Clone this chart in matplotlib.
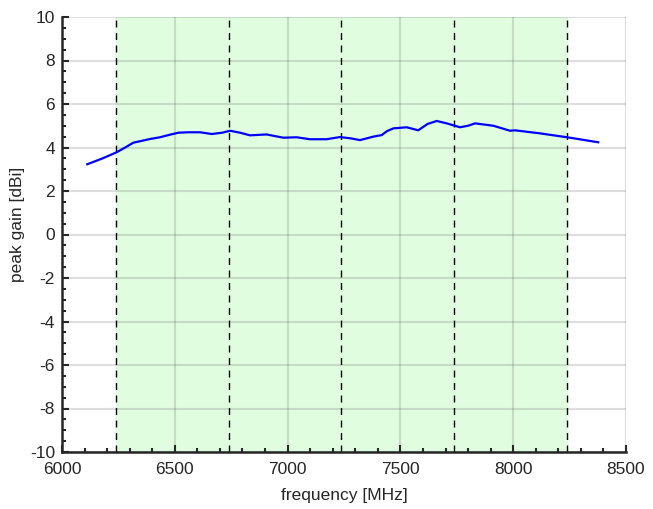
import numpy as np
import matplotlib
matplotlib.use("Agg")
import matplotlib.pyplot as plt
from matplotlib.ticker import MultipleLocator

# peak gain
freq = [6112, 6180, 6242, 6280, 6316, 6390, 6434, 6475, 6516, 6560, 6612, 6664,
        6710, 6745, 6789, 6833, 6907, 6981, 7040, 7099, 7173, 7232, 7280, 7321,
        7380, 7417, 7440, 7469, 7528, 7579, 7620, 7661, 7705, 7764, 7800, 7831,
        7912, 7986, 8008, 8119, 8252, 8377]
gain = [3.23, 3.50, 3.78, 4.00, 4.22, 4.39, 4.47, 4.58, 4.68, 4.70, 4.70, 4.62,
        4.68, 4.77, 4.68, 4.56, 4.60, 4.45, 4.47, 4.38, 4.38, 4.48, 4.42, 4.34,
        4.50, 4.57, 4.75, 4.88, 4.93, 4.79, 5.08, 5.22, 5.11, 4.93, 5.00, 5.11,
        5.00, 4.77, 4.79, 4.65, 4.45, 4.24]

# channel edges (MHz)
band_edges = [6240, 6739.2, 7238.4, 7737.6, 8236.8]

plt.rcParams["font.family"] = ["Liberation Sans", "DejaVu Sans"]
plt.rcParams["axes.unicode_minus"] = False
dark = "#262626"

fig = plt.figure(figsize=(6.53, 5.09), dpi=100)
ax = fig.add_axes([62 / 653, 57 / 509, 564 / 653, 435 / 509])

ax.axvspan(band_edges[0], band_edges[-1], color="#e0fde0", zorder=0)
for e in band_edges:
    ax.axvline(e, color="black", linestyle=(0, (5, 4)), linewidth=1.0, zorder=2)

ax.plot(freq, gain, color="#0000ff", linewidth=1.6, zorder=3,
        solid_joinstyle="round")

ax.set_xlim(6000, 8500)
ax.set_ylim(-10, 10)
ax.xaxis.set_major_locator(MultipleLocator(500))
ax.xaxis.set_minor_locator(MultipleLocator(100))
ax.yaxis.set_major_locator(MultipleLocator(2))
ax.yaxis.set_minor_locator(MultipleLocator(0.5))

ax.grid(True, which="major", color=dark, alpha=0.15, linewidth=1.5, zorder=1)
ax.set_axisbelow(True)

for s in ["top", "right"]:
    ax.spines[s].set_visible(False)
for s in ["left", "bottom"]:
    ax.spines[s].set_color(dark)
    ax.spines[s].set_linewidth(1.8)

ax.tick_params(which="both", direction="in", colors=dark, labelsize=12.5,
               width=1.5)
ax.tick_params(which="major", length=5)
ax.tick_params(which="minor", length=3)
ax.tick_params(axis="x", which="major", pad=7)
ax.tick_params(axis="y", which="major", pad=5)

ax.set_xlabel("frequency [MHz]", fontsize=12.5, color=dark, labelpad=8)
ax.set_ylabel("peak gain [dBi]", fontsize=12.5, color=dark)
ax.yaxis.set_label_coords(-0.066, 0.524)

fig.savefig("out.png", dpi=100)
